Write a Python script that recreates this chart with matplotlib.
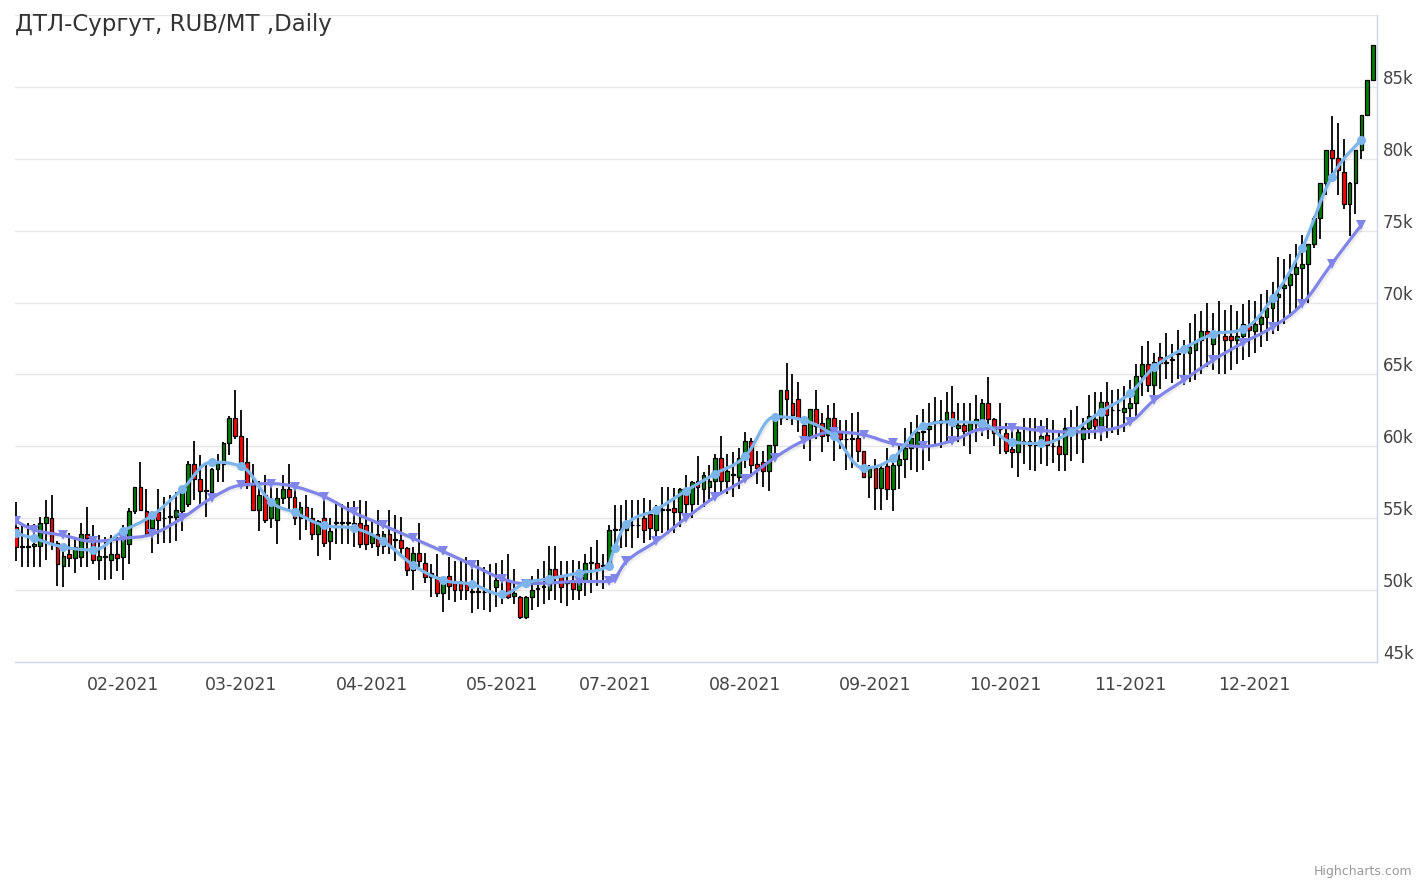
"""
Candlestick chart of DTL-Surgut daily prices with two weekly average lines,
styled after the Highcharts Stock original.
"""
import matplotlib
matplotlib.use("Agg")
import matplotlib.pyplot as plt
import matplotlib.patheffects as pe
from matplotlib.path import Path
from matplotlib.patches import PathPatch, Rectangle
from matplotlib.transforms import offset_copy
import numpy as np
import pandas as pd

# --- data (thousand RUB / MT), one entry per trading day -------------------
HOLIDAYS = ["2021-03-08", "2021-05-03", "2021-05-10", "2021-11-04"]

opens = [
    54.4, 53.0, 53.0, 53.1, 53.1, 54.7, 55.0, 53.3, 51.7, 52.5, 52.2, 52.3, 53.9, 53.5, 52.1, 52.3, 52.1, 52.5, 52.3, 53.2,
    55.5, 57.2, 55.5, 54.3, 55.4, 55.0, 55.1, 55.1, 55.5, 56.0, 58.8, 57.7, 56.9, 56.8, 58.4, 58.8, 60.2, 62.0,
    60.7, 58.9, 57.3, 55.6, 56.6, 55.0, 54.9, 56.4, 57.0, 56.5, 55.0, 55.8, 55.0, 53.9, 55.0, 53.4, 54.7, 54.7, 54.7, 54.7,
    54.7, 54.5, 53.3, 53.9, 53.1, 53.9, 53.5, 53.5, 52.9, 51.4, 52.6, 51.9, 50.9, 50.9, 49.8, 51.0, 50.6, 50.6, 50.5, 49.9,
    49.9, 49.9, 49.9, 50.2, 50.7, 50.7, 49.6, 49.5, 48.1, 49.5, 50.1, 50.2, 50.0, 51.5, 50.9, 50.5, 50.7, 50.0, 50.7, 51.9,
    51.9, 51.7, 51.7, 54.2, 54.2, 54.2, 54.5, 54.5, 55.0, 55.3, 54.2, 55.6, 55.6, 55.7, 55.4, 57.0, 56.0, 57.6,
    57.0, 57.2, 57.6, 59.2, 57.6, 58.0, 57.9, 59.2, 60.4, 58.8, 58.9, 58.3, 60.1, 62.0, 63.9, 63.0, 63.3, 61.5, 60.7, 62.6, 61.6,
    60.8, 62.0, 60.9, 60.5, 60.5, 60.6, 59.7, 57.9, 58.5, 57.1, 58.6, 57.0, 58.7, 59.1, 59.85, 60.0, 61.0, 61.2,
    61.7, 61.6, 61.8, 62.4, 61.3, 61.5, 61.1, 61.6, 61.9, 63.0, 61.9, 61.2, 60.9, 59.8, 59.6, 60.3, 60.4, 60.1, 60.3, 60.8,
    60.0, 60.05, 59.5, 61.3, 61.0, 60.5, 61.3, 61.9, 61.4, 63.1, 62.5, 62.5, 62.4, 62.7, 63.0, 64.9, 65.7, 64.3, 66.2,
    65.8, 66.0, 66.4, 66.8, 66.5, 66.7, 67.4, 68.0, 67.1, 68.0, 67.7, 67.7, 67.4, 67.7, 68.4, 68.0, 68.5, 69.0, 69.6,
    70.4, 71.0, 71.25, 72.0, 72.4, 72.7, 74.1, 75.9, 78.3, 80.6, 80.05, 79.07, 76.84, 78.33, 80.6, 83.05, 85.46,
]
highs = [
    56.1, 54.7, 54.7, 54.6, 55.1, 56.3, 56.6, 53.4, 53.1, 54.0, 53.6, 54.7, 55.8, 54.5, 53.8, 53.7, 53.8, 53.7, 54.5, 55.7,
    57.2, 58.9, 57.0, 55.5, 57.0, 56.5, 56.6, 56.8, 57.0, 59.0, 60.4, 59.4, 58.7, 58.5, 59.5, 60.3, 62.1, 63.9,
    62.5, 60.6, 58.8, 57.6, 58.0, 57.5, 57.1, 58.0, 58.8, 57.3, 56.1, 56.6, 55.7, 54.9, 56.6, 55.0, 56.2, 56.0, 56.1, 56.2,
    56.3, 56.2, 54.9, 55.6, 54.1, 55.6, 55.2, 55.1, 53.0, 53.0, 54.7, 52.6, 51.8, 52.5, 50.9, 52.3, 52.0, 52.0, 52.3, 51.5,
    52.1, 51.6, 51.8, 51.9, 52.1, 52.5, 51.5, 49.6, 49.6, 51.0, 51.5, 52.0, 53.1, 53.1, 52.0, 52.0, 52.1, 52.0, 52.5, 53.0,
    53.5, 52.5, 54.5, 55.9, 55.9, 56.3, 56.3, 56.3, 56.4, 56.3, 55.9, 57.2, 57.2, 57.1, 57.1, 58.0, 57.6, 59.3,
    58.2, 58.7, 59.5, 60.7, 59.5, 59.6, 59.9, 61.0, 60.6, 59.7, 59.7, 60.1, 62.0, 63.9, 65.8, 65.0, 64.5, 61.8, 62.6, 63.9, 62.3,
    62.9, 63.0, 61.8, 61.8, 62.3, 62.4, 59.7, 58.7, 59.1, 58.7, 59.9, 59.4, 60.0, 61.3, 61.7, 62.2, 62.6, 63.0,
    63.45, 63.2, 63.8, 64.2, 63.0, 63.0, 63.0, 63.6, 63.3, 64.85, 62.0, 63.0, 61.6, 61.4, 61.25, 62.0, 62.0, 62.0, 61.8, 61.95,
    61.8, 60.9, 61.95, 62.5, 62.8, 62.0, 63.6, 63.8, 63.8, 64.5, 63.9, 64.0, 64.2, 64.6, 65.7, 67.0, 67.3, 66.5, 67.2,
    67.9, 67.1, 68.1, 67.4, 68.6, 69.2, 69.4, 70.0, 69.3, 70.1, 69.5, 69.8, 69.4, 69.9, 70.2, 70.1, 70.6, 70.9, 71.4,
    73.2, 73.05, 73.4, 74.1, 74.7, 74.1, 76.0, 78.3, 80.6, 83.0, 82.5, 81.4, 78.4, 80.6, 83.05, 85.5, 87.9,
]
lows = [
    52.0, 51.6, 51.6, 51.6, 51.6, 52.1, 52.8, 50.3, 50.2, 51.6, 51.2, 51.6, 51.6, 51.8, 50.7, 50.7, 50.8, 51.3, 50.7, 51.8,
    55.3, 55.5, 53.8, 52.6, 53.2, 53.3, 53.3, 53.4, 54.1, 55.8, 56.3, 55.8, 55.1, 56.5, 57.5, 57.5, 59.4, 60.5,
    58.7, 57.0, 55.5, 54.1, 54.7, 54.3, 53.2, 56.0, 55.5, 54.5, 53.5, 54.2, 53.5, 52.4, 53.0, 52.1, 53.2, 53.2, 53.2, 53.0,
    52.9, 52.8, 52.9, 52.4, 52.5, 52.5, 52.0, 52.3, 51.0, 50.0, 51.6, 50.5, 49.5, 49.5, 48.5, 49.3, 49.2, 49.3, 49.3, 48.4,
    48.7, 48.6, 48.5, 48.8, 49.0, 49.4, 49.0, 48.0, 48.0, 48.6, 48.8, 49.0, 49.3, 49.3, 49.1, 48.9, 49.3, 49.3, 49.6, 49.8,
    50.3, 50.1, 51.5, 52.8, 52.9, 53.0, 52.9, 53.6, 53.3, 53.5, 53.2, 54.0, 53.9, 54.0, 54.4, 54.8, 55.0, 55.9,
    55.8, 56.3, 56.5, 56.8, 56.7, 56.5, 57.0, 58.5, 57.9, 57.4, 57.2, 56.9, 59.5, 61.5, 61.8, 61.5, 61.0, 59.8, 59.0, 60.5, 59.6,
    60.3, 59.0, 59.8, 58.35, 58.5, 58.9, 57.8, 56.4, 55.6, 55.6, 56.3, 55.5, 57.0, 57.8, 58.35, 58.2, 58.35, 59.0,
    60.0, 59.9, 60.3, 60.4, 60.3, 60.0, 59.5, 60.3, 60.7, 60.5, 60.0, 59.5, 59.5, 58.5, 57.9, 58.8, 58.35, 58.3, 58.8, 58.6,
    58.85, 58.3, 58.3, 59.0, 59.5, 58.85, 60.5, 60.5, 60.4, 60.6, 60.9, 60.8, 61.0, 61.5, 62.0, 63.5, 63.8, 63.3, 64.0,
    64.7, 64.4, 64.7, 64.3, 64.5, 64.6, 65.0, 65.5, 65.3, 65.0, 65.0, 65.3, 65.7, 66.0, 66.2, 66.5, 66.9, 67.3, 67.8,
    68.0, 68.5, 69.0, 69.5, 70.0, 70.0, 73.8, 74.4, 77.5, 78.5, 77.5, 76.5, 74.66, 76.15, 80.0, 83.0, 85.4,
]
closes = [
    53.0, 53.0, 53.1, 53.2, 54.7, 55.1, 53.3, 51.8, 52.4, 52.2, 53.0, 53.9, 53.6, 52.1, 52.4, 52.3, 52.5, 52.2, 53.6, 55.5,
    57.2, 55.6, 53.9, 55.3, 54.9, 55.0, 55.1, 55.6, 57.0, 58.8, 57.7, 56.9, 56.95, 58.4, 58.9, 60.2, 62.0, 60.7,
    58.9, 57.3, 55.6, 56.6, 54.9, 56.0, 56.4, 57.0, 56.5, 55.0, 55.8, 55.0, 53.9, 54.8, 53.3, 54.1, 54.7, 54.7, 54.75, 54.6,
    53.2, 53.2, 53.8, 53.1, 53.9, 53.1, 53.5, 52.9, 51.4, 52.6, 52.0, 50.9, 51.2, 49.8, 50.9, 50.3, 50.0, 50.0, 50.0, 49.9,
    49.9, 49.85, 49.9, 50.7, 50.9, 49.5, 49.8, 48.1, 49.5, 50.0, 50.1, 50.3, 51.5, 51.0, 50.2, 50.5, 50.1, 51.4, 51.9, 51.9,
    51.5, 51.7, 54.2, 54.2, 54.25, 54.5, 54.5, 54.55, 54.2, 54.3, 55.8, 55.6, 55.65, 55.4, 57.0, 56.0, 57.5, 57.2,
    58.0, 57.6, 59.2, 57.6, 58.3, 58.05, 59.2, 60.4, 58.7, 58.5, 58.3, 60.1, 62.0, 63.9, 63.3, 62.2, 62.0, 60.7, 62.6, 61.4, 60.7,
    62.0, 60.9, 60.5, 60.5, 60.55, 59.7, 57.9, 58.5, 57.1, 58.5, 57.0, 58.7, 59.1, 59.85, 60.55, 61.0, 61.05, 61.4,
    61.7, 61.8, 62.4, 61.4, 61.5, 61.1, 61.6, 61.9, 63.0, 61.9, 60.9, 61.2, 59.7, 59.6, 61.0, 60.3, 60.1, 60.1, 60.7, 60.1,
    60.0, 59.5, 61.3, 61.0, 61.0, 61.3, 62.1, 61.4, 63.1, 62.2, 62.5, 62.55, 62.7, 63.0, 64.9, 65.7, 64.3, 65.85, 65.8,
    65.9, 66.0, 66.5, 66.9, 66.9, 67.3, 68.0, 67.7, 67.9, 68.0, 67.4, 67.4, 67.7, 68.5, 68.1, 68.5, 69.0, 69.6, 70.3,
    70.6, 71.25, 72.0, 72.5, 72.7, 74.1, 75.9, 78.3, 80.6, 80.05, 79.25, 76.84, 78.33, 80.6, 83.05, 85.46, 87.9,
]

# weekly lines, one value per trading week
weekly_fast = [
    53.95, 53.6, 53.0, 52.8, 54.1, 55.2, 57.0, 58.9, 58.6, 56.15, 55.4, 54.5, 54.3, 53.4, 51.75, 50.7, 50.4,
    49.7, 50.5, 50.8, 51.2, 51.7, 52.95, 54.6, 55.6, 56.9, 58.1, 59.3, 62.05, 61.8, 60.7, 58.5, 59.2, 61.4,
    61.7, 61.6, 60.3, 60.2, 61.0, 62.4, 63.7, 65.5, 66.8, 67.8, 68.15, 70.3, 73.8, 78.75, 81.3,
]
weekly_slow = [
    54.8, 54.2, 53.8, 53.4, 53.6, 53.9, 55.0, 56.4, 57.3, 57.4, 57.2, 56.5, 55.4, 54.5, 53.6, 52.7, 51.75,
    50.8, 50.45, 50.5, 50.6, 50.6, 50.8, 52.0, 53.4, 55.0, 56.5, 57.7, 59.2, 60.4, 61.0, 60.8, 60.2, 60.0,
    60.4, 61.2, 61.3, 61.1, 61.0, 61.1, 61.7, 63.2, 64.6, 66.0, 67.2, 68.3, 69.9, 72.7, 75.4,
]

days = pd.bdate_range("2021-01-06", "2021-12-29")
days = days[(days.month != 6) & ~days.isin(pd.to_datetime(HOLIDAYS))]
assert len(days) == len(opens) == len(highs) == len(lows) == len(closes)

week = days.to_period("W")
week_idx = np.flatnonzero(np.r_[True, week[1:] != week[:-1]])
assert len(week_idx) == len(weekly_fast) == len(weekly_slow)

month_idx = np.flatnonzero(np.r_[True, days.month[1:] != days.month[:-1]])[1:]
month_lbl = days[month_idx].strftime("%m-%Y")


def spline_path(xs, ys):
    """Highcharts-style spline: cubic segments with smoothed control points."""
    pts = list(zip(xs, ys))
    n = len(pts)
    left = [None] * n
    right = [None] * n
    for i, (x, y) in enumerate(pts):
        if 0 < i < n - 1:
            lx, ly = pts[i - 1]
            nx, ny = pts[i + 1]
            lcx, lcy = (1.5 * x + lx) / 2.5, (1.5 * y + ly) / 2.5
            rcx, rcy = (1.5 * x + nx) / 2.5, (1.5 * y + ny) / 2.5
            if rcx != lcx:
                corr = (rcy - lcy) * (rcx - x) / (rcx - lcx) + y - rcy
                lcy += corr
                rcy += corr
            if lcy > ly and lcy > y:
                lcy = max(ly, y); rcy = 2 * y - lcy
            elif lcy < ly and lcy < y:
                lcy = min(ly, y); rcy = 2 * y - lcy
            if rcy > ny and rcy > y:
                rcy = max(ny, y); lcy = 2 * y - rcy
            elif rcy < ny and rcy < y:
                rcy = min(ny, y); lcy = 2 * y - rcy
            left[i], right[i] = (lcx, lcy), (rcx, rcy)
        else:
            left[i] = right[i] = (x, y)
    verts = [pts[0]]
    codes = [Path.MOVETO]
    for i in range(1, n):
        verts += [right[i - 1], left[i], pts[i]]
        codes += [Path.CURVE4] * 3
    return Path(verts, codes)


W, H = 1427, 883
fig = plt.figure(figsize=(W / 100, H / 100), dpi=100)
ax = fig.add_axes([15 / W, (H - 662) / H, 1362 / W, (662 - 15) / H])

x = np.arange(len(days))
o, h, l, c = map(np.asarray, (opens, highs, lows, closes))

# candles
ax.vlines(x, l, h, color="black", linewidth=1.3, zorder=2)
bw = 0.64
for xi, oi, ci in zip(x, o, c):
    up = ci > oi
    bottom = min(oi, ci)
    height = max(abs(ci - oi), 0.04)
    ax.add_patch(Rectangle((xi - bw / 2, bottom), bw, height,
                           facecolor="#008000" if up else "#ff0000",
                           edgecolor="black", linewidth=0.9, zorder=3))

shadow = [pe.SimpleLineShadow(offset=(1, -1), shadow_color="black", alpha=0.07, linewidth=3.5), pe.Normal()]

for vals, color, marker in ((weekly_slow, "#8085e9", "v"), (weekly_fast, "#7cb5ec", "o")):
    path = spline_path(week_idx.astype(float), vals)
    ax.add_patch(PathPatch(path, facecolor="none", edgecolor=color, linewidth=2.3,
                           zorder=4, path_effects=shadow))
    ax.plot(week_idx, vals, linestyle="none", marker=marker, markersize=6.5,
            color=color, markeredgewidth=0, zorder=5)

# axes
ax.set_xlim(-0.17, len(days) - 1 + 0.63)
ax.set_ylim(45, 90)
ax.set_facecolor("white")
for side in ("top", "left"):
    ax.spines[side].set_visible(False)
for side in ("bottom", "right"):
    ax.spines[side].set_color("#ccd6eb")
    ax.spines[side].set_linewidth(1)

for g in np.arange(50, 91, 5):
    ax.axhline(g, color="#e6e6e6", linewidth=1, zorder=1)

ax.set_xticks([])
ax.set_yticks([])

label_color = "#444444"
ylab_tr = offset_copy(ax.get_yaxis_transform(), fig=fig, x=6, y=3, units="dots")
for v in np.arange(45, 90, 5):
    ax.text(1.0, v, f"{v}k", transform=ylab_tr, ha="left", va="baseline",
            fontsize=12, color=label_color, clip_on=False)

xlab_tr = offset_copy(ax.get_xaxis_transform(), fig=fig, x=0, y=-23, units="dots")
for xi, lab in zip(month_idx, month_lbl):
    ax.text(xi, 0, lab, transform=xlab_tr, ha="center", va="center",
            fontsize=12.5, color=label_color)

fig.text(15 / W, 1 - 24 / H, "ДТЛ-Сургут, RUB/MT ,Daily", ha="left", va="center",
         fontsize=16.5, color="#333333")
fig.text(1 - 15 / W, 1 - 872 / H, "Highcharts.com", ha="right", va="center",
         fontsize=9, color="#999999")

fig.savefig("out.png", dpi=100, facecolor="white")
